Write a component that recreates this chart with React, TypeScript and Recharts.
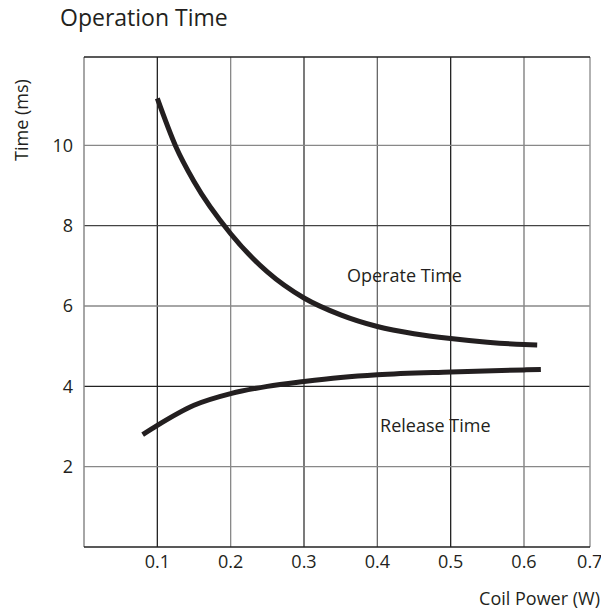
import React from 'react';
import { LineChart, Line, XAxis, YAxis, ReferenceLine, ReferenceDot } from 'recharts';

// curves
const operateX = [0.1, 0.125, 0.15, 0.2, 0.25, 0.3, 0.35, 0.4, 0.45, 0.5, 0.55, 0.6, 0.618];
const operateY = [11.17, 9.98, 9.1, 7.8, 6.85, 6.2, 5.78, 5.49, 5.31, 5.19, 5.1, 5.04, 5.03];
const releaseX = [0.08, 0.1, 0.15, 0.2, 0.25, 0.3, 0.35, 0.4, 0.5, 0.6, 0.623];
const releaseY = [2.8, 3.03, 3.53, 3.82, 4.0, 4.12, 4.22, 4.29, 4.36, 4.41, 4.42];

const xTicks = [0.1, 0.2, 0.3, 0.4, 0.5, 0.6, 0.69];
const xTickLabels = ['0.1', '0.2', '0.3', '0.4', '0.5', '0.6', '0.7'];
const yTicks = [2, 4, 6, 8, 10];
const X_MAX = 0.69;
const Y_MAX = 12.2;

const operateData = operateX.map((x, i) => ({ x, y: operateY[i] }));
const releaseData = releaseX.map((x, i) => ({ x, y: releaseY[i] }));

// grid line shades vary in the scan
const vGridStroke = ['#222', '#888', '#333', '#666', '#222', '#777'];
const hGridStroke = ['#888', '#222', '#888', '#444', '#888'];

const INK = '#231f20';
const FONT = '"Open Sans", sans-serif';

const App = () => {
    return (
        <div style={{ position: 'absolute', left: 0, top: 0, width: 601, height: 615, background: '#fff', fontFamily: FONT }}>
            <div style={{ position: 'absolute', left: 60, top: 1, fontSize: 23, color: INK, whiteSpace: 'nowrap' }}>
                Operation Time
            </div>
            <div
                style={{
                    position: 'absolute',
                    left: 21,
                    top: 120,
                    fontSize: 18,
                    color: INK,
                    whiteSpace: 'nowrap',
                    transform: 'translate(-50%, -50%) rotate(-90deg)',
                }}
            >
                Time (ms)
            </div>
            <div style={{ position: 'absolute', right: 1, top: 586, fontSize: 18, color: INK, whiteSpace: 'nowrap' }}>
                Coil Power (W)
            </div>
            <LineChart width={601} height={615} margin={{ top: 57, right: 11, left: 0, bottom: 38 }}>
                <XAxis
                    type="number"
                    dataKey="x"
                    domain={[0, X_MAX]}
                    ticks={xTicks}
                    tickFormatter={(v: number) => xTickLabels[xTicks.indexOf(v)] ?? ''}
                    axisLine={false}
                    tickLine={false}
                    tickSize={0}
                    tickMargin={8}
                    height={30}
                    tick={{ fill: INK, fontSize: 18, fontFamily: FONT }}
                />
                <YAxis
                    type="number"
                    dataKey="y"
                    domain={[0, Y_MAX]}
                    ticks={yTicks}
                    axisLine={false}
                    tickLine={false}
                    tickSize={0}
                    tickMargin={11}
                    width={84}
                    tick={{ fill: INK, fontSize: 18, fontFamily: FONT }}
                />
                {xTicks.slice(0, 6).map((t, i) => (
                    <ReferenceLine key={'v' + t} x={t} stroke={vGridStroke[i]} strokeWidth={1.3} />
                ))}
                {yTicks.map((t, i) => (
                    <ReferenceLine key={'h' + t} y={t} stroke={hGridStroke[i]} strokeWidth={1.3} />
                ))}
                <ReferenceLine x={0} stroke="#888" strokeWidth={1.5} />
                <ReferenceLine x={X_MAX} stroke="#999" strokeWidth={1.5} />
                <ReferenceLine y={0} stroke="#222" strokeWidth={1.5} />
                <ReferenceLine y={Y_MAX} stroke="#222" strokeWidth={1.5} />
                <Line
                    data={operateData}
                    dataKey="y"
                    type="monotone"
                    stroke={INK}
                    strokeWidth={5}
                    dot={false}
                    isAnimationActive={false}
                />
                <Line
                    data={releaseData}
                    dataKey="y"
                    type="monotone"
                    stroke={INK}
                    strokeWidth={5}
                    dot={false}
                    isAnimationActive={false}
                />
                <ReferenceDot
                    x={0.437}
                    y={6.76}
                    r={0}
                    stroke="none"
                    fill="none"
                    label={{ value: 'Operate Time', position: 'center', fill: INK, fontSize: 18, fontFamily: FONT }}
                />
                <ReferenceDot
                    x={0.479}
                    y={3.01}
                    r={0}
                    stroke="none"
                    fill="none"
                    label={{ value: 'Release Time', position: 'center', fill: INK, fontSize: 18, fontFamily: FONT }}
                />
            </LineChart>
        </div>
    );
};

export default App;
